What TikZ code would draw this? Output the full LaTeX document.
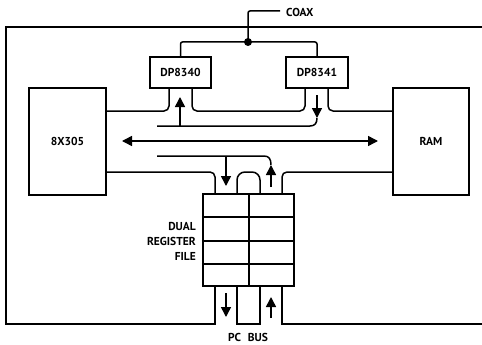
\documentclass[tikz,border=0pt]{standalone}
\usepackage{fontspec}
\setmainfont{PT Sans}
\usetikzlibrary{arrows.meta}
\tikzset{
  x=1pt,y=-1pt,
  block/.style={draw=black,line width=2.3pt,fill=white,inner sep=0pt,font=\bfseries\fontsize{11.5}{13}\selectfont},
  wire/.style={draw=black,line width=1.5pt,rounded corners=5pt},
  flow/.style={wire,rounded corners=0pt,-{Triangle[length=10pt,width=10pt]}},
  dflow/.style={wire,rounded corners=0pt,{Triangle[length=10pt,width=10pt]}-{Triangle[length=10pt,width=10pt]}},
  lbl/.style={inner sep=0pt,font=\bfseries\fontsize{11.5}{13}\selectfont},
  rowline/.style={draw=black,line width=2pt},
  dot/.style={circle,fill=black,inner sep=0pt,minimum size=8pt}
}
\begin{document}
\begin{tikzpicture}
\useasboundingbox (0,0) rectangle (482,345);
\fill[white] (0,0) rectangle (482,345);
% blocks
\node[block,minimum width=77pt,minimum height=107pt] (cpu) at (67.5,141.5) {8X305};
\node[block,minimum width=76pt,minimum height=107pt] (ram) at (431,141.5) {RAM};
\node[block,minimum width=61pt,minimum height=31pt] (dpa) at (180.5,72.5) {DP8340};
\node[block,minimum width=62pt,minimum height=31pt] (dpb) at (317,72.5) {DP8341};
\node[block,minimum width=91pt,minimum height=92pt] (reg) at (248.5,240) {};
% coax
\node[dot] (junc) at (248,42) {};
\node[lbl,anchor=west] (coax) at (286,12) {COAX};
\coordinate (cx) at (280,11);
\draw[wire,rounded corners=2pt] (junc.center) -- (248,11) -- (cx);
\draw[wire,rounded corners=2pt] (dpa.north) |- (junc.center) -| (dpb.north);
% coordinates on the block edges
\coordinate (a1) at (169,88);
\coordinate (a2) at (192,88);
\coordinate (b1) at (305,88);
\coordinate (b2) at (328,88);
\coordinate (r1) at (215,194);
\coordinate (r2) at (237,194);
\coordinate (r3) at (260,194);
\coordinate (r4) at (282,194);
\coordinate (s1) at (215,286);
\coordinate (s2) at (237,286);
\coordinate (s3) at (260,286);
\coordinate (s4) at (282,286);
% buses
\draw[wire] (cpu.east |- 0,111) -- (169,111) -- (a1);
\draw[wire] (a2) -- (192,111) -- (305,111) -- (b1);
\draw[wire] (b2) -- (328,111) -- (ram.west |- 0,111);
\draw[wire] (cpu.east |- 0,172) -- (215,172) -- (r1);
\draw[wire,rounded corners=8pt] (r2) -- (237,172) -- (260,172) -- (r3);
\draw[wire] (r4) -- (282,172) -- (ram.west |- 0,172);
% frame and PC bus
\draw[wire,rounded corners=0pt] (s1) -- (215,324) -- (6,324) -- (6,27) -- (482,27);
\draw[wire,rounded corners=0pt] (s2) -- (237,324) -- (260,324) -- (s3);
\draw[wire,rounded corners=0pt] (s4) -- (282,324) -- (482,324);
% arrows
\coordinate (c1) at (157,126);
\coordinate (cj) at (180,126);
\coordinate (c2) at (180,97);
\coordinate (c3) at (317,95);
\coordinate (c4) at (317,118);
\coordinate (c5) at (157,156);
\coordinate (cm) at (226,156);
\coordinate (c6) at (226,186);
\coordinate (c7) at (271,165);
\coordinate (c8) at (271,187);
\draw[wire,rounded corners=0pt] (c1) -- (310,126) .. controls (315,126) and (317,123) .. (c4);
\draw[flow] (cj) -- (c2);
\draw[flow] (c3) -- (c4);
\coordinate (e1) at (122,141);
\coordinate (e2) at (378,141);
\draw[dflow] (e1) -- (e2);
\draw[wire,rounded corners=0pt] (c5) -- (264,156) .. controls (269,156) and (271,159) .. (c7);
\draw[flow] (cm) -- (c6);
\draw[flow] (c8) -- (c7);
\coordinate (d1) at (226,293);
\coordinate (d2) at (226,317);
\coordinate (d3) at (271,318);
\coordinate (d4) at (271,297);
\draw[flow] (d1) -- (d2);
\draw[flow] (d3) -- (d4);
% register rows
\foreach \y in {217,241,264} \draw[rowline] (reg.west |- 0,\y) -- (reg.east |- 0,\y);
\draw[rowline] (reg.north -| 249,0) -- (reg.south -| 249,0);
% labels
\node[lbl,anchor=east] (l1) at (196,226) {DUAL};
\node[lbl,anchor=east] (l2) at (196,241) {REGISTER};
\node[lbl,anchor=east] (l3) at (196,256) {FILE};
\node[lbl] (pc) at (248,337) {PC\hspace{4pt} BUS};
\end{tikzpicture}
\end{document}
